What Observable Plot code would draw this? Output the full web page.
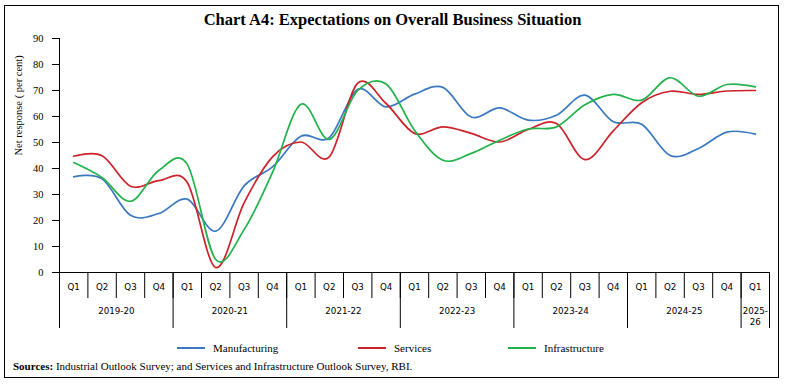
<!DOCTYPE html>
<html>
<head>
<meta charset="utf-8">
<script src="https://cdn.jsdelivr.net/npm/d3@7"></script>
<script src="https://cdn.jsdelivr.net/npm/@observablehq/plot@0.6"></script>
<style>
  html, body { margin: 0; padding: 0; background: #fff; }
  #page { position: relative; width: 785px; height: 385px; overflow: hidden; font-family: "Liberation Serif", serif; color: #000; }
  #frame { position: absolute; left: 4px; top: 5px; width: 773px; height: 371px; border: 1.5px solid #000; }
  #title { position: absolute; left: 0; top: 10px; width: 785px; text-align: center; font-weight: bold; font-size: 16.5px; }
  #chart { position: absolute; left: 0; top: 0; }
  .leg { position: absolute; top: 342px; font-size: 11px; display: flex; align-items: center; }
  .sw { display: inline-block; width: 28px; height: 2px; margin-right: 8px; }
  #src { position: absolute; left: 13px; top: 360px; font-size: 11px; }
</style>
</head>
<body>
<div id="page">
  <div id="frame"></div>
  <div id="title">Chart A4: Expectations on Overall Business Situation</div>
  <div id="chart"></div>
  <div id="legend"></div>
  <div id="src"><b>Sources:</b> Industrial Outlook Survey; and Services and Infrastructure Outlook Survey, RBI.</div>
</div>
<script>
const quarters = ["Q1","Q2","Q3","Q4","Q1","Q2","Q3","Q4","Q1","Q2","Q3","Q4","Q1","Q2","Q3","Q4","Q1","Q2","Q3","Q4","Q1","Q2","Q3","Q4","Q1"];
const years = ["2019-20","2020-21","2021-22","2022-23","2023-24","2024-25","2025-\n26"];
const yearQuarterCounts = [4,4,4,4,4,4,1];
const yTicks = [0,10,20,30,40,50,60,70,80,90];
const seriesNames = ["Manufacturing","Services","Infrastructure"];
const seriesColors = ["#3a78c2","#cc2229","#21b24b"];

const manufacturing = [36.8, 36.0, 22.0, 22.7, 28.2, 15.9, 33.3, 40.6, 52.4, 51.9, 70.4, 63.7, 68.6, 71.2, 59.8, 63.3, 58.6, 60.5, 68.2, 58.0, 57.0, 45.0, 47.7, 54.0, 53.2];
const services      = [44.7, 44.9, 33.2, 35.3, 34.6, 1.9, 26.8, 44.5, 50.2, 44.5, 72.8, 65.0, 53.5, 56.0, 53.5, 50.2, 55.0, 57.3, 43.4, 54.5, 65.3, 69.7, 68.5, 69.8, 70.0];
const infrastructure= [42.3, 36.5, 27.4, 39.3, 41.6, 5.0, 16.5, 38.5, 64.7, 51.2, 70.0, 72.5, 54.7, 43.2, 45.8, 50.9, 55.2, 56.0, 64.5, 68.5, 66.3, 74.9, 67.8, 72.3, 71.4];

const seriesValues = [manufacturing, services, infrastructure];
const rows = [];
seriesNames.forEach((s, k) => seriesValues[k].forEach((v, i) => rows.push({series: s, i, value: v})));

const qRows = quarters.map((q, i) => ({i, q}));
const boundaries = d3.range(quarters.length + 1).map(i => i - 0.5);
const yearRows = [];
const yearBounds = [-0.5];
let start = 0;
years.forEach((y, k) => {
  const n = yearQuarterCounts[k];
  yearRows.push({label: y, mid: start + (n - 1) / 2});
  start += n;
  yearBounds.push(start - 0.5);
});

const sans = "DejaVu Sans";
const chart = Plot.plot({
  width: 785,
  height: 340,
  marginTop: 38,
  marginBottom: 68,
  marginLeft: 59,
  marginRight: 16,
  style: {fontFamily: "Liberation Serif", fontSize: "10.5px", background: "transparent", overflow: "visible"},
  x: {domain: [-0.5, quarters.length - 0.5], axis: null},
  y: {domain: [0, 90], axis: null},
  color: {domain: seriesNames, range: seriesColors},
  marks: [
    Plot.axisY(yTicks, {tickSize: 7, tickPadding: 9, label: null, fontSize: 10.5}),
    Plot.text(["Net response ( per cent)"], {frameAnchor: "left", rotate: -90, dx: -41, fontSize: 10.5}),
    Plot.ruleX([-0.5], {y1: 0, y2: 90, stroke: "#000"}),
    Plot.ruleY([0], {stroke: "#000"}),
    Plot.ruleX(boundaries, {insetTop: 234, insetBottom: -26, stroke: "#000"}),
    Plot.ruleX(yearBounds, {insetTop: 234, insetBottom: -56, stroke: "#000"}),
    Plot.text(qRows, {x: "i", text: "q", frameAnchor: "bottom", dy: 17, fontFamily: sans, fontSize: 8.7}),
    Plot.text(yearRows, {x: "mid", text: "label", frameAnchor: "bottom", dy: 33, lineAnchor: "top", fontFamily: sans, fontSize: 8.7, lineHeight: 1.3}),
    Plot.line(rows, {x: "i", y: "value", z: "series", stroke: "series", curve: "cardinal", strokeWidth: 1.7})
  ]
});
document.getElementById("chart").appendChild(chart);

const legendPos = [177, 358, 508];
const legend = document.getElementById("legend");
seriesNames.forEach((s, k) => {
  const d = document.createElement("div");
  d.className = "leg";
  d.style.left = legendPos[k] + "px";
  d.innerHTML = `<span class="sw" style="background:${seriesColors[k]}"></span><span>${s}</span>`;
  legend.appendChild(d);
});
</script>
</body>
</html>
